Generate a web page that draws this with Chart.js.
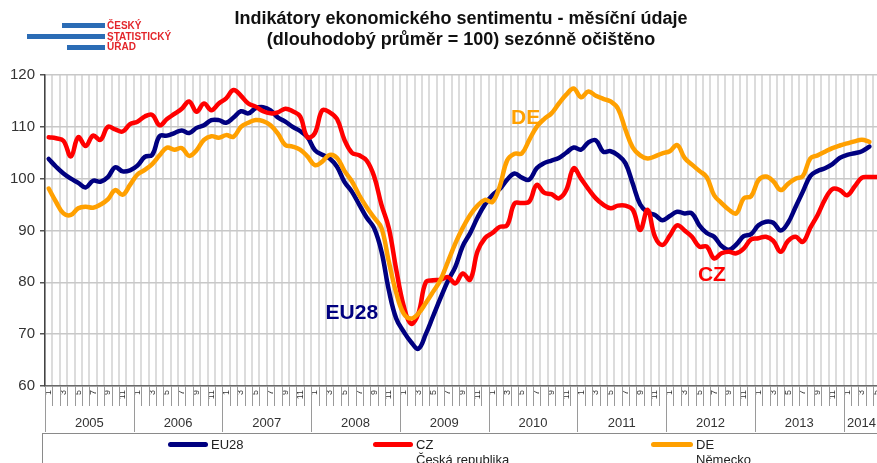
<!DOCTYPE html>
<html>
<head>
<meta charset="utf-8">
<script src="https://cdn.jsdelivr.net/npm/chart.js@4"></script>
<style>
  html, body { margin: 0; padding: 0; background: #fff; overflow: hidden; }
  #wrap { position: relative; width: 877px; height: 463px; overflow: hidden; font-family: "Liberation Sans", Arial, sans-serif; }
  #chart { position: absolute; left: 0; top: 0; }
  .title { position: absolute; left: 161px; width: 600px; text-align: center; font-weight: bold; font-size: 18px; color: #111; line-height: 21px; top: 8px; }
  .bar { position: absolute; background: #2b6cb5; height: 5px; }
  .logo { position: absolute; left: 107px; color: #e3262b; font-weight: bold; font-size: 10px; line-height: 10.5px; top: 21px; }
  .legend { position: absolute; left: 42px; top: 433px; width: 900px; height: 40px; border: 1.5px solid #8a8a8a; }
  .lg-line { position: absolute; height: 5px; border-radius: 3px; }
  .lg-text { position: absolute; font-size: 13px; line-height: 15px; color: #222; }
</style>
</head>
<body>
<div id="wrap">
  <canvas id="chart" width="899" height="463"></canvas>
  <div class="bar" style="left:62px;top:23px;width:43px"></div>
  <div class="bar" style="left:27px;top:34px;width:78px"></div>
  <div class="bar" style="left:67px;top:45px;width:38px"></div>
  <div class="logo">ČESKÝ<br>STATISTICKÝ<br>ÚŘAD</div>
  <div class="title">Indikátory ekonomického sentimentu - měsíční údaje<br>(dlouhodobý průměr = 100) sezónně očištěno</div>
  <div class="legend">
    <div class="lg-line" style="left:125px;top:8px;width:40px;background:#000080"></div>
    <div class="lg-text" style="left:168px;top:3px">EU28</div>
    <div class="lg-line" style="left:330px;top:8px;width:40px;background:#ff0000"></div>
    <div class="lg-text" style="left:373px;top:3px">CZ<br>Česká republika</div>
    <div class="lg-line" style="left:608px;top:8px;width:42px;background:#ffa000"></div>
    <div class="lg-text" style="left:653px;top:3px">DE<br>Německo</div>
  </div>
</div>
<script>
const years = ['2005', '2006', '2007', '2008', '2009', '2010', '2011', '2012', '2013', '2014'];
const monthsPerYear = [12, 12, 12, 12, 12, 12, 12, 12, 12, 6];
const yTicks = [60, 70, 80, 90, 100, 110, 120];

// EU28, monthly from 2005-01
const eu28 = [
  103.8, 102.3, 101.0, 100.0, 99.2, 98.3, 99.6, 99.4, 100.3, 102.2, 101.4, 101.6,
  102.5, 104.2, 104.6, 108.2, 108.3, 108.8, 109.3, 108.8, 109.8, 110.3, 111.3, 111.3,
  110.8, 111.8, 113.0, 112.6, 113.6, 113.8, 113.2, 111.8, 111.0, 110.0, 109.2, 108.0,
  105.5, 104.6, 103.9, 102.3, 99.4, 97.5, 95.0, 92.5, 90.5, 86.0, 78.5, 73.0,
  70.5, 68.5, 67.2, 70.0, 73.5, 77.0, 80.3, 83.0, 87.0, 89.5, 92.5, 95.0,
  96.8, 98.0, 99.8, 101.0, 100.2, 99.8, 102.0, 103.0, 103.5, 104.0, 105.0, 106.0,
  105.6, 107.0, 107.4, 105.2, 105.3, 104.5, 103.0, 99.0, 95.0, 93.5, 93.0, 92.0,
  92.8, 93.6, 93.3, 93.3, 91.0, 89.5, 88.8, 87.0, 86.3, 87.3, 88.9, 89.3,
  91.0, 91.7, 91.5, 90.0, 91.5, 94.5, 97.5, 100.5, 101.5, 102.0, 102.8, 104.0,
  104.6, 104.9, 105.3, 106.2
];

// CZ - Česká republika
const cz = [
  108.0, 107.8, 107.3, 104.3, 108.0, 106.3, 108.3, 107.5, 110.0, 109.5, 109.1, 110.5,
  111.0, 112.0, 112.3, 110.3, 111.5, 112.5, 113.5, 114.9, 112.9, 114.5, 113.2, 114.5,
  115.5, 117.1, 116.0, 114.5, 113.9, 113.0, 112.6, 112.8, 113.5, 113.0, 112.0, 108.0,
  108.8, 113.2, 112.8, 111.5, 107.5, 105.0, 104.5, 103.5, 100.5, 95.0, 90.5, 82.5,
  75.5, 72.0, 74.0, 80.0, 80.4, 80.5, 81.0, 79.8, 81.7, 80.5, 86.0, 88.5,
  89.5, 90.7, 91.0, 95.2, 95.3, 95.6, 98.8, 97.3, 97.0, 96.2, 97.8, 102.0,
  100.0, 98.0, 96.2, 95.0, 94.3, 94.8, 94.8, 94.0, 90.1, 94.0, 88.8, 87.2,
  89.0, 91.0, 90.0, 88.8, 86.9, 86.9, 84.6, 85.6, 85.9, 85.6, 86.5, 88.3,
  88.5, 88.8, 88.0, 85.9, 88.0, 88.8, 87.8, 90.5, 93.0, 96.0, 98.0, 97.8,
  96.8, 98.5, 100.2, 100.3, 100.3
];

// DE - Německo
const de = [
  98.1, 95.5, 93.3, 93.0, 94.3, 94.6, 94.4, 95.0, 96.0, 97.8, 96.9, 98.8,
  100.8, 101.7, 102.8, 104.5, 106.0, 105.6, 105.9, 104.4, 105.5, 107.5, 108.2, 107.9,
  108.4, 108.1, 110.0, 110.8, 111.3, 111.1, 110.3, 108.7, 106.5, 106.2, 105.6, 104.3,
  102.6, 103.3, 104.6, 104.0, 101.5, 99.5, 96.8, 94.5, 92.5, 90.5, 84.0, 78.0,
  74.0, 73.0, 74.0, 76.0, 78.2, 80.5, 84.0, 87.5, 90.5, 93.0, 94.8, 95.9,
  95.5, 98.5, 103.5, 104.8, 104.9, 107.5, 110.0, 111.5, 112.6, 114.5, 116.2, 117.4,
  115.7, 116.8, 116.0, 115.4, 114.9, 113.5, 109.5, 106.0, 104.5, 103.9, 104.3, 104.9,
  105.3, 106.5, 104.0, 102.7, 101.5, 100.3, 96.8, 95.3, 94.0, 93.3, 96.2, 96.6,
  99.7, 100.4, 99.5, 97.8, 99.0, 100.0, 100.5, 103.9, 104.5, 105.2, 105.9, 106.4,
  106.8, 107.2, 107.5, 107.1
];

// in-chart series names: [text, month index, value, colour]
const seriesNotes = [
  ['EU28', 41, 74.1, '#000080'],
  ['DE', 64.5, 111.7, '#ffa000'],
  ['CZ', 89.7, 81.4, '#ff0000']
];

const labels = [];
years.forEach((y, yi) => {
  for (let m = 1; m <= monthsPerYear[yi]; m++) labels.push(String(m));
});

const FONT = '"Liberation Sans", Arial, sans-serif';

const axisExtras = {
  id: 'axisExtras',
  afterDraw(chart) {
    const ctx = chart.ctx;
    const x = chart.scales.x;
    const area = chart.chartArea;
    const step = x.getPixelForValue(1) - x.getPixelForValue(0);
    ctx.save();
    // month tick marks and year separators below the axis
    ctx.strokeStyle = '#9a9a9a';
    ctx.lineWidth = 1;
    let idx = 0;
    years.forEach((y, yi) => {
      for (let m = 0; m < monthsPerYear[yi]; m++) {
        const px = Math.round(x.getPixelForValue(idx) - step / 2) + 0.5;
        ctx.beginPath();
        ctx.moveTo(px, area.bottom);
        ctx.lineTo(px, area.bottom + (m === 0 ? 46 : 20));
        ctx.stroke();
        idx++;
      }
    });
    // year labels
    ctx.fillStyle = '#333';
    ctx.font = '13px ' + FONT;
    ctx.textAlign = 'center';
    ctx.textBaseline = 'middle';
    idx = 0;
    years.forEach((y, yi) => {
      let px = x.getPixelForValue(idx + monthsPerYear[yi] / 2 - 0.5);
      if (yi === years.length - 1) px = x.getPixelForValue(idx) - step / 2 + 18;
      ctx.fillText(y, px, area.bottom + 37);
      idx += monthsPerYear[yi];
    });
    // series names inside the plot
    const yS = chart.scales.y;
    ctx.font = 'bold 21px ' + FONT;
    seriesNotes.forEach(([t, i, v, c]) => {
      ctx.fillStyle = c;
      ctx.fillText(t, x.getPixelForValue(i), yS.getPixelForValue(v));
    });
    ctx.restore();
  }
};

const lineStyle = { borderWidth: 4.5, pointRadius: 0, tension: 0.4, fill: false, borderCapStyle: 'round', borderJoinStyle: 'round' };

new Chart(document.getElementById('chart'), {
  type: 'line',
  data: {
    labels: labels,
    datasets: [
      { label: 'EU28', data: eu28, borderColor: '#000080', order: 3, ...lineStyle },
      { label: 'CZ', data: cz, borderColor: '#ff0000', order: 2, ...lineStyle },
      { label: 'DE', data: de, borderColor: '#ffa000', order: 1, ...lineStyle }
    ]
  },
  options: {
    responsive: false,
    animation: false,
    layout: { padding: { top: 75, bottom: 30, left: 0, right: 3 } },
    plugins: { legend: { display: false }, tooltip: { enabled: false } },
    scales: {
      x: {
        offset: true,
        afterFit: s => { s.height = 47; },
        grid: { color: '#dcdcdc', lineWidth: 2, drawTicks: false, offset: true },
        border: { color: '#6a6a6a', width: 1.5 },
        ticks: {
          autoSkip: false, maxRotation: 90, minRotation: 90, padding: 4,
          color: '#333', font: { size: 9, family: FONT },
          callback: function (v) { const l = this.getLabelForValue(v); return (+l % 2 === 1) ? l : ''; }
        }
      },
      y: {
        min: 60, max: 120,
        afterFit: s => { s.width = 45; },
        afterBuildTicks: s => { s.ticks = yTicks.map(v => ({ value: v })); },
        grid: { color: '#c8c8c8', lineWidth: 1.5, tickLength: 5, tickColor: '#555' },
        border: { color: '#444', width: 1.5 },
        ticks: { color: '#333', padding: 5, font: { size: 15, family: FONT } }
      }
    }
  },
  plugins: [axisExtras]
});
</script>
</body>
</html>
